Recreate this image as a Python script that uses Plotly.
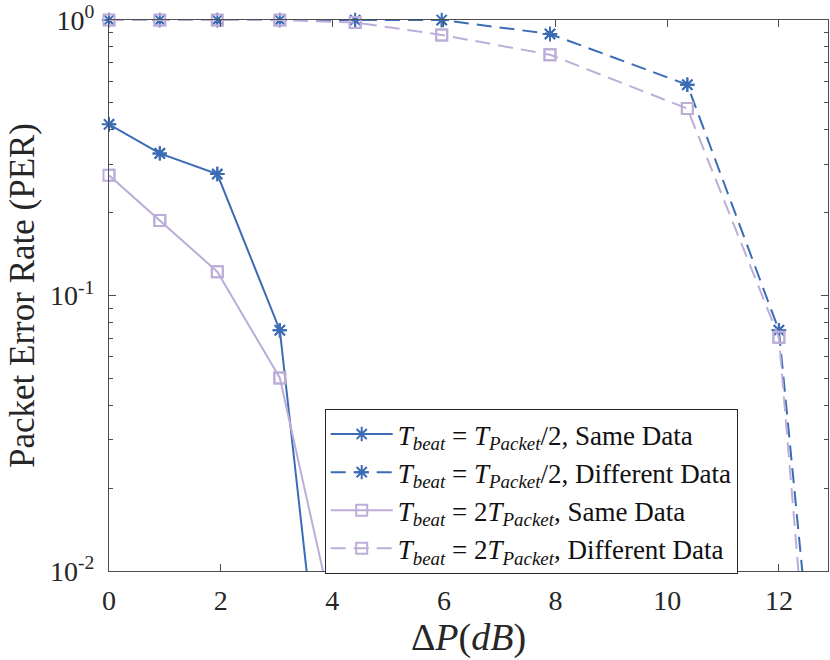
import plotly.graph_objects as go

# ── data (log y, PER) ──
delta_p = [0, 0.91, 1.94, 3.06, 4.41, 5.96, 7.90, 10.36, 12.0, 12.88]

per_half_same = [0.418, 0.328, 0.276, 0.0748, 0.00026, None, None, None, None, None]
per_half_diff = [1.0, 1.0, 1.0, 1.0, 1.0, 1.0, 0.89, 0.582, 0.0748, 0.0011]
per_two_same  = [0.273, 0.187, 0.122, 0.0502, 0.0030, None, None, None, None, None]
per_two_diff  = [1.0, 1.0, 1.0, 1.0, 0.98, 0.883, 0.748, 0.477, 0.0705, 0.00052]

EQ = "\u00a0=\u00a0"
labels = [
    f"<i>T</i><sub><i>beat</i></sub>{EQ}<i>T</i><sub><i>Packet</i></sub>/2, Same Data",
    f"<i>T</i><sub><i>beat</i></sub>{EQ}<i>T</i><sub><i>Packet</i></sub>/2, Different Data",
    f"<i>T</i><sub><i>beat</i></sub>{EQ}2<i>T</i><sub><i>Packet</i></sub>, Same Data",
    f"<i>T</i><sub><i>beat</i></sub>{EQ}2<i>T</i><sub><i>Packet</i></sub>, Different Data",
]

y_tickvals = [0.01, 0.1, 1]
y_ticktext = ["10<sup>-2</sup>", "10<sup>-1</sup>", "10<sup>0</sup>"]

BLUE = "#3b6cb5"
LILAC = "#bcaed8"
FONT = "Liberation Serif"
AX = "#4d4d4d"
TXT = "#262626"

fig = go.Figure()
styles = [
    (per_half_same, BLUE, "solid", "asterisk-open", 12),
    (per_half_diff, BLUE, "15px,8px", "asterisk-open", 12),
    (per_two_same, LILAC, "solid", "square-open", 11),
    (per_two_diff, LILAC, "15px,8px", "square-open", 11),
]
for i, ((vals, col, dash, sym, sz), name) in enumerate(zip(styles, labels)):
    # full line (clipped to the axes) — this one carries the legend entry
    fig.add_trace(go.Scatter(
        x=delta_p, y=vals, mode="lines+markers", name=name,
        legendgroup=f"g{i}",
        line=dict(color=col, width=2, dash=dash),
        marker=dict(symbol=sym, size=sz, color=col, line=dict(color=col, width=2)),
        connectgaps=False,
    ))
    # markers inside the y range, unclipped so the ones on the top edge show whole
    vis = [(x, v) for x, v in zip(delta_p, vals) if v is not None and v >= 0.01]
    fig.add_trace(go.Scatter(
        x=[p[0] for p in vis], y=[p[1] for p in vis], mode="markers",
        legendgroup=f"g{i}", showlegend=False, cliponaxis=False,
        marker=dict(symbol=sym, size=sz, color=col, line=dict(color=col, width=2)),
        hoverinfo="skip",
    ))

minor_vals = [k * 0.01 for k in range(2, 10)] + [k * 0.1 for k in range(2, 10)]

fig.update_layout(
    width=830, height=660,
    paper_bgcolor="white", plot_bgcolor="white",
    margin=dict(l=109, r=2, t=20, b=89, autoexpand=False),
    font=dict(family=FONT, color=TXT),
    xaxis=dict(
        range=[0, 12.88], dtick=2, tick0=0, automargin=False,
        ticks="inside", ticklen=7, tickcolor=AX,
        showline=True, linecolor=AX, linewidth=1, mirror="ticks",
        showgrid=False, zeroline=False, ticklabelstandoff=4,
        tickfont=dict(family=FONT, size=28, color=TXT),
        title=dict(text="Δ<i>P</i>(<i>dB</i>)", standoff=4,
                   font=dict(family=FONT, size=38, color=TXT)),
    ),
    yaxis=dict(
        type="log", range=[-2, 0], automargin=False,
        tickmode="array", tickvals=y_tickvals, ticktext=y_ticktext,
        ticks="inside", ticklen=7, tickcolor=AX,
        minor=dict(tickmode="array", tickvals=minor_vals, ticks="inside",
                   ticklen=4, tickcolor=AX),
        showline=True, linecolor=AX, linewidth=1, mirror="ticks",
        showgrid=False, zeroline=False,
        ticklabeloverflow="allow", ticklabelstandoff=8,
        tickfont=dict(family=FONT, size=28, color=TXT),
        title=dict(text="Packet Error Rate (PER)", standoff=4,
                   font=dict(family=FONT, size=35, color=TXT)),
    ),
    legend=dict(
        x=0.300, y=0.294, xanchor="left", yanchor="top",
        bgcolor="white", bordercolor=TXT, borderwidth=1,
        font=dict(family=FONT, size=27, color="#111111"),
        tracegroupgap=0, itemwidth=62,
    ),
)

# drop the page's default 8px body margin so the figure sits at the window origin
fig.write_html("out.html", config={"displayModeBar": False},
               post_script="document.body.style.margin='0';")
